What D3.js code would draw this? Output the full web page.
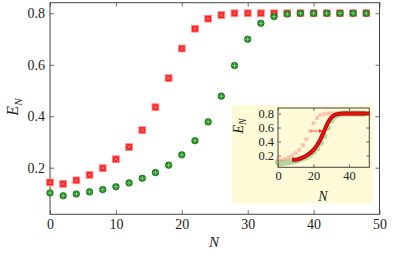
<!DOCTYPE html>
<html><head><meta charset="utf-8">
<script src="https://cdn.jsdelivr.net/npm/d3@7"></script>
<style>
html,body{margin:0;padding:0;background:#fff;}
svg text{font-family:"Liberation Serif","Times New Roman",serif;fill:#222;}
</style></head>
<body><svg id="c" width="394" height="255" font-family="Liberation Serif"></svg>
<script>
const N = [0,2,4,6,8,10,12,14,16,18,20,22,24,26,28,30,32,34,36,38,40,42,44,46,48];
const redE = [0.143,0.137,0.151,0.172,0.198,0.233,0.280,0.346,0.435,0.548,0.663,0.740,0.779,0.793,0.800,0.800,0.800,0.800,0.800,0.800,0.800,0.800,0.800,0.800,0.800];
const greenE = [0.102,0.091,0.098,0.106,0.115,0.126,0.141,0.159,0.181,0.210,0.250,0.305,0.378,0.478,0.597,0.699,0.761,0.787,0.797,0.800,0.800,0.800,0.800,0.800,0.800];
const shiftN = 8;
const xTicks = [0,10,20,30,40,50];
const yTicks = [0.2,0.4,0.6,0.8];
const insetXTicks = [0,20,40];
const insetYTicks = [0.2,0.4,0.6,0.8];

const svg = d3.select("#c");
const axisCol = "#444";
const FONT = "Liberation Serif";

function frame(g, x, y, xt, yt, opts){
  const [x0,x1]=x.range(), [y0,y1]=y.range();
  const ts = opts.ts;
  const ax = [
    [d3.axisBottom(x).tickValues(xt), y0, true],
    [d3.axisTop(x).tickValues(xt), y1, false]];
  ax.forEach(([a,pos,lab])=>{
    const gg=g.append("g").attr("transform",`translate(0,${pos})`)
      .call(a.tickSizeInner(-ts).tickSizeOuter(0).tickPadding(opts.padX).tickFormat(lab?d3.format("d"):""));
    gg.attr("font-family",FONT).attr("font-size",opts.fs);
    gg.select(".domain").remove();
    gg.selectAll("line").attr("stroke",axisCol).attr("stroke-width",0.8);
    gg.selectAll("text").attr("fill","#222");
  });
  const ay = [
    [d3.axisLeft(y).tickValues(yt), x0, true],
    [d3.axisRight(y).tickValues(yt), x1, false]];
  ay.forEach(([a,pos,lab])=>{
    const gg=g.append("g").attr("transform",`translate(${pos},0)`)
      .call(a.tickSizeInner(-ts).tickSizeOuter(0).tickPadding(opts.padY).tickFormat(lab?(d=>d3.format(".1f")(d)):""));
    gg.attr("font-family",FONT).attr("font-size",opts.fs);
    gg.select(".domain").remove();
    gg.selectAll("line").attr("stroke",axisCol).attr("stroke-width",0.8);
    gg.selectAll("text").attr("fill","#222");
  });
  g.append("rect").attr("x",x0).attr("y",y1).attr("width",x1-x0).attr("height",y0-y1)
    .attr("fill","none").attr("stroke",axisCol).attr("stroke-width",1);
}

function redMarks(g, x, y, xs, ys, s, op){
  const m = g.append("g").attr("opacity",op);
  xs.forEach((n,i)=>{
    const cx=x(n), cy=y(ys[i]);
    m.append("rect").attr("x",cx-s).attr("y",cy-s).attr("width",2*s).attr("height",2*s)
      .attr("fill","#ff1a1a").attr("stroke","#ff8c8c").attr("stroke-width",0.9);
    const c=s*0.45;
    m.append("path").attr("d",`M${cx-c},${cy-c}L${cx+c},${cy+c}M${cx-c},${cy+c}L${cx+c},${cy-c}`)
      .attr("stroke","#ffd0d0").attr("stroke-width",0.6);
  });
}
function greenMarks(g, x, y, xs, ys, r, op, cross){
  const m = g.append("g").attr("opacity",op);
  xs.forEach((n,i)=>{
    const cx=x(n), cy=y(ys[i]);
    m.append("circle").attr("cx",cx).attr("cy",cy).attr("r",r).attr("fill","#1a901a").attr("stroke","#125f12").attr("stroke-width",0.6);
    if(cross){
      const c=r*0.75;
      m.append("path").attr("d",`M${cx-c},${cy}L${cx+c},${cy}M${cx},${cy-c}L${cx},${cy+c}`)
        .attr("stroke","#b8e6b8").attr("stroke-width",0.6);
    }
  });
}
function enLabel(tx, ty, fs){
  svg.append("text").attr("transform",`translate(${tx},${ty}) rotate(-90)`).attr("text-anchor","middle")
    .attr("font-family",FONT).attr("font-size",fs)
    .html(`<tspan font-style="italic">E</tspan><tspan font-style="italic" font-size="${fs*0.7}" dy="${fs*0.22}">N</tspan>`);
}

// ---------- main ----------
const x = d3.scaleLinear([0,50],[50,379.5]);
const y = d3.scaleLinear([0.019,0.841],[214.3,2.7]);
const gm = svg.append("g");
frame(gm, x, y, xTicks, yTicks, {ts:4, fs:14, padX:5, padY:5});
redMarks(gm, x, y, N, redE, 3.4, 1);
greenMarks(gm, x, y, N, greenE, 3.3, 1, true);

enLabel(18, 107, 16);
svg.append("text").attr("x",214).attr("y",247).attr("text-anchor","middle").attr("font-size",15)
  .attr("font-family",FONT).attr("font-style","italic").text("N");

// ---------- inset ----------
const gi = svg.append("g");
gi.append("rect").attr("x",231.5).attr("y",105).attr("width",142).attr("height",98.5).attr("fill","#fffbd9");
const xi = d3.scaleLinear([0,51.5],[278,369.3]);
const yi = d3.scaleLinear([0.031,0.879],[167.3,108]);
const defs = svg.append("defs");
defs.append("clipPath").attr("id","ic").append("rect")
  .attr("x",274).attr("y",106).attr("width",95.3).attr("height",63);
defs.append("clipPath").attr("id","ic2").append("rect")
  .attr("x",278).attr("y",106).attr("width",91.3).attr("height",63);
frame(gi, xi, yi, insetXTicks, insetYTicks, {ts:3, fs:12.5, padX:4, padY:4});
const gic = gi.append("g").attr("clip-path","url(#ic)");
greenMarks(gic, xi, yi, N, greenE, 2.9, 0.32, false);
redMarks(gic, xi, yi, N, redE, 1.6, 0.38);
const line = d3.line().x((d,i)=>xi(N[i]+shiftN)).y(d=>yi(d)).curve(d3.curveMonotoneX);
const gl = gi.append("g").attr("clip-path","url(#ic2)");
gl.append("path").attr("d",line(redE)).attr("fill","none").attr("stroke","#9b0000").attr("stroke-width",4);
gl.append("path").attr("d",line(redE)).attr("fill","none").attr("stroke","#ee1010").attr("stroke-width",2.4);
// arrow
const ay = 0.55;
const a0 = xi(18), a1 = xi(18+shiftN)-1, yy = yi(ay);
gi.append("line").attr("x1",a0).attr("y1",yy).attr("x2",a1-3).attr("y2",yy).attr("stroke","#ff4040").attr("stroke-width",0.9);
gi.append("path").attr("d",`M${a1},${yy}L${a1-4},${yy-2}L${a1-4},${yy+2}Z`).attr("fill","#ff3030");

enLabel(243, 126, 14);
svg.append("text").attr("x",323).attr("y",201).attr("text-anchor","middle").attr("font-size",14)
  .attr("font-family",FONT).attr("font-style","italic").text("N");
</script></body></html>
